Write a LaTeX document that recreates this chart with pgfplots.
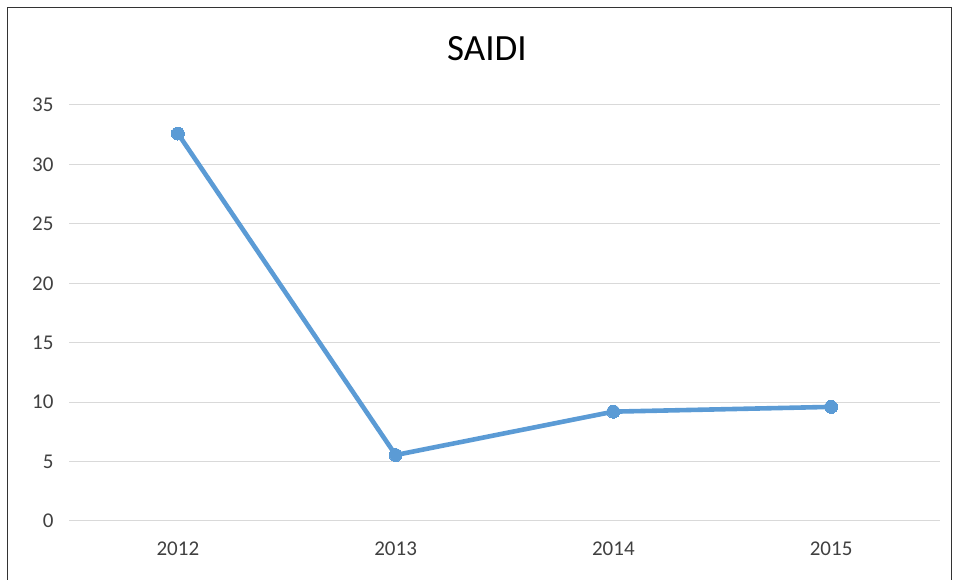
\documentclass[border=0pt]{standalone}
\usepackage{pgfplots}
\pgfplotsset{compat=1.18}
\usepackage{fontspec}
\setmainfont{Carlito}
\definecolor{lineblue}{HTML}{5B9BD5}
\definecolor{gridgray}{HTML}{D9D9D9}
\definecolor{labgray}{HTML}{404040}
\begin{document}
\begin{tikzpicture}[x=1pt,y=1pt]
\useasboundingbox (0,0) rectangle (961,580);
\draw[line width=1.5pt, color=black!80] (7.5,0) -- (7.5,572.5) -- (951.5,572.5) -- (951.5,0);
\node[font=\fontsize{37}{42}\selectfont, color=black] at (487,531) {SAIDI};
\begin{axis}[
  at={(69pt,59pt)}, anchor=south west,
  scale only axis, width=871pt, height=416pt,
  xmin=-0.5, xmax=3.5, ymin=0, ymax=35,
  xtick={0,1,2,3}, xticklabels={2012,2013,2014,2015},
  ytick={0,5,10,15,20,25,30,35},
  axis line style={draw=none},
  major tick length=0pt,
  ymajorgrids, grid style={gridgray, line width=1pt},
  tick label style={font=\fontsize{21}{24}\selectfont, color=labgray},
  /pgf/number format/assume math mode=true,
  yticklabel style={xshift=-12pt},
  xticklabel style={yshift=-17pt},
  clip=false,
]
\addplot[lineblue, line width=4.6pt, mark=*, mark size=6.5pt, mark options={fill=lineblue, draw=lineblue, line width=0pt}]
  coordinates {(0,32.6) (1,5.55) (2,9.2) (3,9.6)};
\end{axis}
\end{tikzpicture}
\end{document}
